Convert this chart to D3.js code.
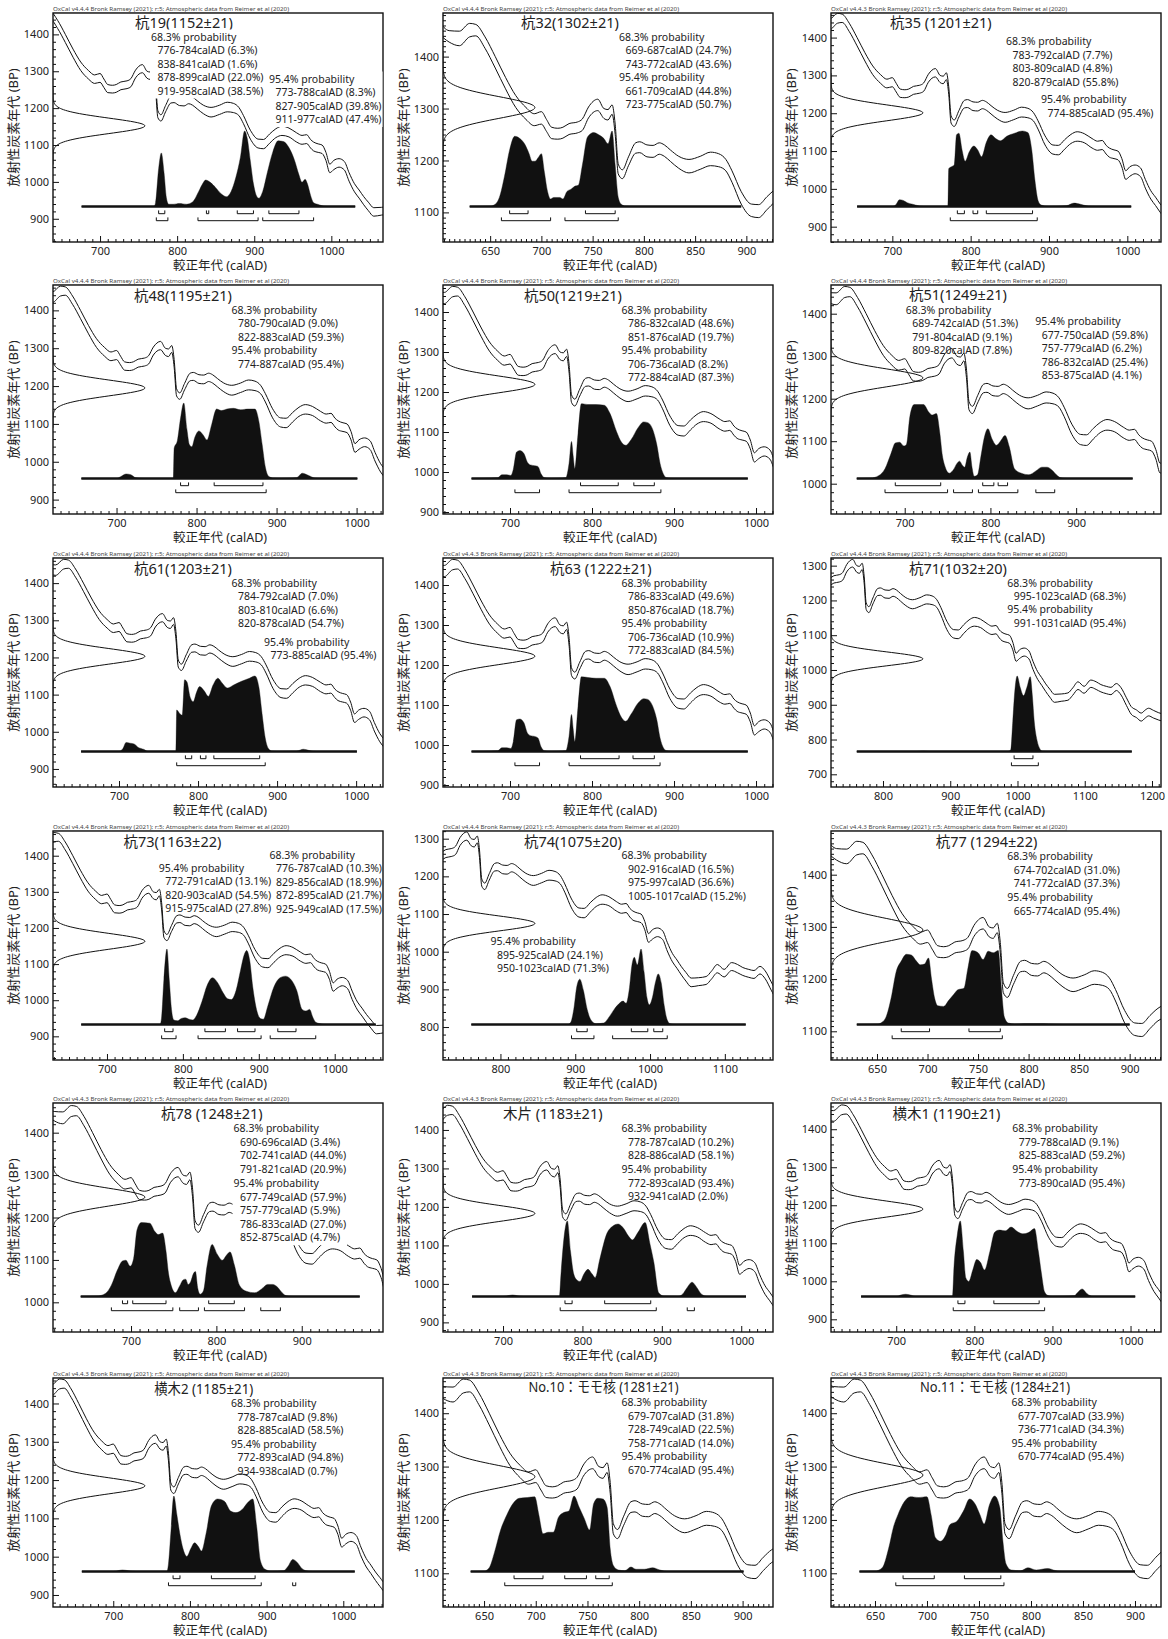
<!DOCTYPE html>
<html><head><meta charset="utf-8">
<script src="https://cdn.jsdelivr.net/npm/d3@7"></script>
<style>body{margin:0;background:#fff}svg{display:block}</style>
</head><body>
<svg id="chart" width="1168" height="1639"></svg>
<script>
// ---------- calibration curve (IntCal20, mean ± 1σ envelope) ----------
const calYears = [600,610,620,630,636,645,655,665,675,685,693,700,705,710,716,721,727,735,740,746,755,761,765,769,772,775,779,785,792,796,803,809,815,820,826,834,844,855,865,873,880,886,895,905,912,920,928,936,945,955,962,968,973,977,983,988,993,998,1003,1010,1017,1023,1030,1036,1042,1048,1055,1065,1075,1082,1090,1099,1109,1117,1124,1132,1139,1147,1154,1162,1169,1177,1184,1190,1195,1202,1210,1220];
const curveUpper = [1468,1450,1449,1464,1462,1438,1400,1360,1325,1302,1290,1294,1279,1264,1262,1264,1271,1274,1280,1303,1318,1300,1298,1307,1270,1193,1182,1207,1234,1236,1230,1229,1234,1230,1220,1208,1202,1208,1216,1213,1202,1180,1140,1116,1115,1130,1144,1151,1146,1133,1126,1128,1115,1108,1103,1100,1080,1048,1058,1063,1055,1025,995,978,960,945,930,931,934,948,966,953,971,966,958,953,950,961,949,920,895,885,876,885,890,884,877,872];
const curveLower = [1444,1428,1421,1438,1440,1416,1378,1338,1302,1279,1267,1270,1256,1242,1241,1243,1250,1253,1258,1282,1296,1281,1278,1289,1250,1174,1165,1190,1214,1215,1207,1206,1212,1208,1198,1185,1176,1183,1190,1188,1180,1158,1116,1092,1090,1105,1120,1126,1122,1108,1102,1104,1092,1084,1080,1077,1058,1025,1033,1040,1032,1002,973,956,938,922,907,910,913,927,944,933,950,944,937,932,929,941,928,898,873,863,853,862,868,862,856,850];

// ---------- samples ----------
const titles = ["杭19(1152±21)","杭32(1302±21)","杭35 (1201±21)","杭48(1195±21)","杭50(1219±21)","杭51(1249±21)","杭61(1203±21)","杭63 (1222±21)","杭71(1032±20)","杭73(1163±22)","杭74(1075±20)","杭77 (1294±22)","杭78 (1248±21)","木片 (1183±21)","横木1 (1190±21)","横木2 (1185±21)","No.10：モモ核 (1281±21)","No.11：モモ核 (1284±21)"];
const measured = [[1152,21],[1302,21],[1201,21],[1195,21],[1219,21],[1249,21],[1203,21],[1222,21],[1032,20],[1163,22],[1075,20],[1294,22],[1248,21],[1183,21],[1190,21],[1185,21],[1281,21],[1284,21]];
const versions = ["4.4.4","4.4.4","4.4.3","4.4.4","4.4.4","4.4.4","4.4.4","4.4.3","4.4.4","4.4.4","4.4.4","4.4.3","4.4.3","4.4.3","4.4.3","4.4.3","4.4.3","4.4.3"];
const xDomains = [[639,1067],[604,926],[621.7,1043],[620.6,1033],[618.3,1020.7],[614,999],[616.5,1034],[618.3,1020.7],[722.7,1213.4],[628.9,1063.6],[723.2,1164.4],[604.5,931],[608.6,995.2],[624.4,1040],[616.5,1039],[621.4,1051.8],[610.3,929.4],[607.7,925]];
const yDomains = [[837,1458],[1043,1484],[859.5,1465],[862,1467],[895,1467.5],[928.7,1467.5],[851.4,1467.6],[895,1467.5],[663.5,1322],[834.5,1468.4],[712.5,1320.4],[1045,1483.7],[930,1470],[875,1470],[866.6,1469],[868.6,1466.5],[1036.8,1466],[1036.8,1466]];
const xTickSteps = [100,50,100,100,100,100,100,100,100,100,100,50,100,100,100,100,50,50];

const ranges68 = [
 [[776,784,"6.3"],[838,841,"1.6"],[878,899,"22.0"],[919,958,"38.5"]],
 [[669,687,"24.7"],[743,772,"43.6"]],
 [[783,792,"7.7"],[803,809,"4.8"],[820,879,"55.8"]],
 [[780,790,"9.0"],[822,883,"59.3"]],
 [[786,832,"48.6"],[851,876,"19.7"]],
 [[689,742,"51.3"],[791,804,"9.1"],[809,820,"7.8"]],
 [[784,792,"7.0"],[803,810,"6.6"],[820,878,"54.7"]],
 [[786,833,"49.6"],[850,876,"18.7"]],
 [[995,1023,"68.3"]],
 [[776,787,"10.3"],[829,856,"18.9"],[872,895,"21.7"],[925,949,"17.5"]],
 [[902,916,"16.5"],[975,997,"36.6"],[1005,1017,"15.2"]],
 [[674,702,"31.0"],[741,772,"37.3"]],
 [[690,696,"3.4"],[702,741,"44.0"],[791,821,"20.9"]],
 [[778,787,"10.2"],[828,886,"58.1"]],
 [[779,788,"9.1"],[825,883,"59.2"]],
 [[778,787,"9.8"],[828,885,"58.5"]],
 [[679,707,"31.8"],[728,749,"22.5"],[758,771,"14.0"]],
 [[677,707,"33.9"],[736,771,"34.3"]]
];
const ranges95 = [
 [[773,788,"8.3"],[827,905,"39.8"],[911,977,"47.4"]],
 [[661,709,"44.8"],[723,775,"50.7"]],
 [[774,885,"95.4"]],
 [[774,887,"95.4"]],
 [[706,736,"8.2"],[772,884,"87.3"]],
 [[677,750,"59.8"],[757,779,"6.2"],[786,832,"25.4"],[853,875,"4.1"]],
 [[773,885,"95.4"]],
 [[706,736,"10.9"],[772,883,"84.5"]],
 [[991,1031,"95.4"]],
 [[772,791,"13.1"],[820,903,"54.5"],[915,975,"27.8"]],
 [[895,925,"24.1"],[950,1023,"71.3"]],
 [[665,774,"95.4"]],
 [[677,749,"57.9"],[757,779,"5.9"],[786,833,"27.0"],[852,875,"4.7"]],
 [[772,893,"93.4"],[932,941,"2.0"]],
 [[773,890,"95.4"]],
 [[772,893,"94.8"],[934,938,"0.7"]],
 [[670,774,"95.4"]],
 [[670,774,"95.4"]]
];

// ---------- calibrated probability distributions [calAD, relative probability] ----------
const distK19 = [[676,0],[770,0],[772,0.05],[776,0.5],[779.5,0.71],[783,0.45],[786,0.12],[789,0.03],[795,0.03],[803,0.04],[812,0.03],[820,0.06],[828,0.2],[833,0.3],[837,0.35],[843,0.32],[850,0.25],[857,0.17],[864,0.13],[870,0.2],[876,0.38],[882,0.65],[887.5,1.0],[891,0.9],[895,0.6],[899,0.3],[903,0.14],[906,0.11],[911,0.2],[917,0.45],[924,0.72],[931,0.87],[938,0.86],[945,0.78],[952,0.62],[958,0.42],[962,0.32],[966,0.36],[969,0.3],[973,0.15],[977,0.05],[982,0.03],[988,0.01],[995,0],[1031,0]];
const distK32 = [[630,0],[650,0.005],[655,0.03],[659,0.12],[664,0.4],[669,0.75],[674,0.93],[679,0.9],[684,0.82],[688,0.7],[691,0.6],[694,0.6],[697,0.65],[700,0.7],[703,0.45],[706,0.2],[709,0.1],[712,0.12],[718,0.12],[721,0.1],[725,0.2],[729,0.23],[733,0.27],[736,0.28],[740,0.55],[745,0.92],[751,0.98],[756,0.95],[761,0.9],[765,0.83],[769,1.0],[772,0.55],[775,0.12],[778,0.03],[782,0.005],[790,0],[895,0]];
const distK35 = [[655,0],[700,0],[705,0.03],[709,0.09],[714,0.08],[719,0.05],[726,0.03],[733,0.01],[740,0],[771,0],[772,0.5],[776,0.53],[779,0.55],[782,0.95],[785,0.97],[789,0.75],[793,0.6],[798,0.72],[804,0.8],[809,0.75],[814,0.66],[820,0.85],[826,0.95],[832,0.9],[838,0.87],[846,0.93],[856,0.97],[866,1.0],[873,0.98],[878,0.75],[882,0.35],[886,0.08],[890,0.02],[900,0],[922,0.01],[932,0.045],[940,0.03],[950,0.005],[960,0],[1005,0]];
const distK48 = [[656,0],[700,0],[706,0.03],[712,0.06],[718,0.05],[724,0.01],[735,0],[771,0],[772,0.4],[776,0.5],[780,0.8],[784,1.0],[788,0.65],[791,0.45],[794,0.42],[798,0.55],[803,0.63],[808,0.58],[813,0.51],[819,0.72],[825,0.92],[831,0.9],[838,0.92],[846,0.93],[855,0.91],[864,0.92],[873,0.92],[878,0.75],[882,0.45],[886,0.15],[890,0.03],[896,0.005],[905,0],[925,0.01],[932,0.07],[940,0.04],[948,0.005],[955,0],[1001,0]];
const distK50 = [[653,0],[685,0.01],[690,0.05],[696,0.05],[701,0.04],[704,0.12],[708,0.35],[712,0.37],[717,0.33],[721,0.22],[725,0.18],[730,0.17],[734,0.16],[738,0.06],[742,0.01],[750,0],[768,0.01],[772,0.2],[775,0.49],[777,0.3],[779,0.13],[783,0.6],[787,0.99],[795,0.98],[805,0.98],[815,0.97],[822,0.86],[830,0.62],[836,0.48],[841,0.44],[848,0.52],[856,0.67],[863,0.75],[868,0.74],[874,0.65],[879,0.45],[883,0.2],[887,0.06],[891,0.01],[900,0],[990,0]];
const distK51 = [[644,0],[660,0.005],[670,0.04],[677,0.13],[684,0.33],[689,0.47],[694,0.48],[699,0.43],[702,0.45],[706,0.82],[711,0.98],[722,0.98],[728,0.88],[732,0.84],[737,0.86],[741,0.6],[744,0.3],[747,0.16],[752,0.07],[757,0.12],[761,0.2],[764,0.23],[767,0.18],[770,0.15],[773,0.28],[776,0.35],[778.5,0.15],[781,0.03],[785,0.05],[789,0.3],[793,0.55],[797,0.66],[802,0.52],[807,0.44],[812,0.5],[817,0.57],[822,0.42],[828,0.13],[836,0.07],[845,0.05],[853,0.1],[860,0.15],[866,0.15],[872,0.11],[877,0.05],[882,0.01],[890,0],[966,0]];
const distK61 = [[652,0],[700,0],[705,0.04],[709,0.12],[714,0.11],[719,0.1],[725,0.05],[731,0.03],[737,0],[772,0],[773,0.55],[777,0.5],[780,0.48],[783,0.95],[786,0.92],[790,0.72],[794,0.66],[798,0.78],[802,0.86],[808,0.8],[813,0.73],[819,0.88],[825,0.97],[831,0.9],[837,0.84],[845,0.88],[855,0.93],[865,0.97],[872,1.0],[877,0.85],[881,0.5],[885,0.18],[889,0.04],[894,0.005],[900,0],[925,0.005],[933,0.03],[942,0.01],[950,0],[1001,0]];
const distK63 = [[653,0],[685,0.01],[690,0.05],[696,0.05],[701,0.04],[704,0.13],[708,0.42],[712,0.43],[717,0.38],[721,0.25],[725,0.21],[730,0.2],[734,0.18],[738,0.06],[742,0.01],[750,0],[768,0.01],[772,0.2],[775,0.49],[777,0.3],[779,0.13],[783,0.6],[787,0.99],[795,0.98],[805,0.97],[815,0.97],[822,0.86],[830,0.6],[836,0.45],[841,0.4],[848,0.5],[856,0.64],[863,0.7],[868,0.69],[874,0.6],[879,0.42],[883,0.18],[887,0.05],[891,0.01],[900,0],[990,0]];
const distK71 = [[761,0],[850,0],[860,0.005],[870,0],[985,0],[990,0.02],[993,0.4],[996,0.8],[999.5,1.0],[1004,0.85],[1009,0.74],[1014,0.85],[1019,0.99],[1022,0.75],[1025,0.39],[1029,0.15],[1033,0.04],[1037,0.005],[1045,0],[1170,0]];
const distK73 = [[666,0],[770,0],[772,0.1],[775,0.6],[779,1.0],[782,0.6],[785,0.2],[788,0.06],[793,0.05],[798,0.08],[803,0.09],[808,0.07],[813,0.06],[818,0.12],[825,0.3],[832,0.52],[839,0.62],[846,0.55],[853,0.42],[859,0.34],[864,0.33],[870,0.45],[876,0.72],[881,0.93],[884,0.98],[888,0.85],[892,0.5],[897,0.2],[902,0.08],[906,0.07],[912,0.25],[920,0.5],[928,0.62],[935,0.64],[942,0.6],[950,0.45],[957,0.2],[962,0.18],[967,0.2],[971,0.1],[975,0.03],[981,0.01],[990,0],[1054,0]];
const distK74 = [[761,0],[890,0],[894,0.03],[898,0.2],[902,0.5],[906,0.6],[911,0.45],[916,0.2],[921,0.06],[928,0.01],[938,0.02],[946,0.11],[952,0.2],[957,0.26],[964,0.31],[968,0.28],[972,0.45],[976,0.8],[979,0.89],[983,0.79],[988,1.0],[992,0.7],[996,0.35],[999,0.26],[1003,0.35],[1007,0.55],[1011,0.67],[1015,0.55],[1019,0.25],[1023,0.06],[1027,0.01],[1035,0],[1128,0]];
const distK77 = [[630,0],[650,0.005],[655,0.03],[659,0.1],[664,0.35],[669,0.7],[674,0.84],[679,0.93],[684,0.92],[689,0.84],[693,0.79],[697,0.8],[701,0.88],[704,0.6],[707,0.35],[710,0.25],[716,0.24],[721,0.32],[726,0.4],[730,0.46],[736,0.48],[740,0.75],[744,0.98],[750,0.95],[755,0.86],[760,0.97],[765,0.95],[770,0.98],[773,0.5],[776,0.1],[780,0.02],[786,0.005],[795,0.01],[805,0.01],[815,0.01],[825,0.005],[835,0],[900,0]];
const distK78 = [[641,0],[660,0.005],[670,0.04],[677,0.15],[684,0.35],[690,0.47],[694,0.48],[699,0.4],[703,0.5],[707,0.88],[712,0.98],[722,0.97],[728,0.86],[732,0.82],[737,0.84],[741,0.6],[744,0.3],[747,0.15],[752,0.05],[757,0.14],[761,0.22],[764,0.23],[767,0.16],[770,0.2],[773,0.3],[775.5,0.33],[778,0.12],[781,0.03],[785,0.08],[789,0.4],[795,0.69],[801,0.56],[807,0.48],[812,0.55],[816,0.59],[821,0.42],[827,0.15],[835,0.07],[845,0.05],[853,0.1],[860,0.16],[866,0.16],[872,0.12],[877,0.05],[882,0.01],[890,0],[968,0]];
const distMokuhen = [[661,0],[700,0],[706,0.01],[712,0.02],[718,0.01],[726,0],[771,0],[773,0.3],[777,0.8],[781,1.0],[785,0.6],[789,0.3],[793,0.22],[797,0.2],[802,0.3],[807,0.36],[812,0.3],[816,0.25],[822,0.5],[831,0.84],[838,0.93],[845,0.96],[852,0.9],[858,0.8],[863,0.75],[870,0.85],[879,0.98],[885,0.7],[890,0.45],[896,0.05],[903,0.005],[920,0],[926,0.03],[932,0.12],[938,0.19],[944,0.12],[950,0.03],[958,0],[1006,0]];
const distYokogi1 = [[655,0],[700,0],[706,0.02],[712,0.03],[718,0.02],[725,0],[772,0],[774,0.4],[778,0.8],[782,1.0],[786,0.6],[789,0.25],[793,0.2],[798,0.35],[803,0.49],[808,0.45],[813,0.35],[820,0.6],[826,0.85],[832,0.88],[840,0.87],[847,0.92],[855,0.86],[862,0.83],[870,0.85],[877,0.9],[882,0.6],[886,0.3],[890,0.06],[895,0.01],[900,0],[928,0.01],[932,0.05],[938,0.1],[944,0.04],[952,0],[1006,0]];
const distYokogi2 = [[659,0],[700,0],[706,0.01],[712,0.02],[720,0.01],[730,0],[770,0],[772,0.1],[775,0.5],[779,1.0],[783,0.75],[787,0.49],[791,0.3],[796,0.2],[801,0.3],[806,0.38],[811,0.33],[815,0.27],[821,0.5],[828,0.87],[836,0.96],[845,0.93],[853,0.8],[860,0.78],[868,0.82],[876,0.92],[882,0.96],[887,0.6],[892,0.14],[898,0.03],[906,0.005],[922,0.01],[928,0.07],[934,0.16],[940,0.12],[946,0.04],[952,0.01],[960,0],[1015,0]];
const distNo10 = [[637,0],[650,0.005],[655,0.05],[660,0.25],[666,0.55],[672,0.75],[678,0.9],[684,0.97],[692,0.98],[699,0.99],[703,0.75],[707,0.5],[712,0.52],[717,0.52],[722,0.72],[727,0.78],[732,0.8],[737,1.0],[742,0.85],[747,0.7],[752,0.55],[756,0.9],[760,0.97],[765,0.96],[769,0.85],[772,0.3],[775,0.08],[780,0.02],[786,0.01],[792,0.06],[797,0.03],[805,0.03],[813,0.05],[820,0.02],[828,0],[901,0]];
const distNo11 = [[635,0],[650,0.005],[657,0.05],[663,0.3],[668,0.6],[672,0.75],[678,0.92],[684,0.99],[692,0.98],[700,0.99],[704,0.75],[708,0.45],[713,0.4],[718,0.48],[722,0.62],[729,0.67],[735,0.8],[741,0.96],[746,0.9],[751,0.75],[755,0.63],[760,0.88],[765,1.0],[770,0.85],[773,0.4],[776,0.1],[781,0.02],[790,0.01],[797,0.05],[805,0.02],[816,0.04],[824,0.01],[830,0],[900,0]];
const dists = [distK19,distK32,distK35,distK48,distK50,distK51,distK61,distK63,distK71,distK73,distK74,distK77,distK78,distMokuhen,distYokogi1,distYokogi2,distNo10,distNo11];

// ---------- layout (pixels, relative to each panel) ----------
const colX = [0,390,778], rowY = [0,272,545,818,1090,1365];
const FL = 53, FR = 383, FT = 13, FB = 242, BASE = 206.5, PEAK = 75.5, GAUSS_W = 92;
const textLayout = [
 {title:[135,28], b68:[151,40.5], b95:[269,82.5], bg:true},
 {title:[131,28], b68:[229,40.5], b95:[229,81]},
 {title:[112,28], b68:[228,45], b95:[263,103]},
 {title:[134,29], b68:[231.5,41.5], b95:[231.5,82]},
 {title:[134,29], b68:[231.5,41.5], b95:[231.5,82]},
 {title:[131,28], b68:[127.7,41.7], b95:[257.3,53]},
 {title:[134,29], b68:[231.5,41.5], b95:[264,100.7]},
 {title:[160,29], b68:[231.5,41.5], b95:[231.5,82]},
 {title:[131,29], b68:[229.3,41.7], b95:[229.3,68.4]},
 {title:[123.5,29], b68:[269.5,40.5], b95:[158.7,53.5]},
 {title:[134,29], b68:[231.4,41], b95:[100.4,127.3]},
 {title:[157.7,29], b68:[229.3,42], b95:[229.3,83]},
 {title:[161,29], b68:[233.6,42.3], b95:[233.6,97.3], bg:true},
 {title:[113,29], b68:[231.4,42.3], b95:[231.4,83]},
 {title:[114.5,29], b68:[234.3,42.3], b95:[234.3,83]},
 {title:[154.3,28.5], b68:[231,42], b95:[231,82.5], tw:99},
 {title:[138.5,27], b68:[231.5,41], b95:[231.5,95], tw:150},
 {title:[142,27], b68:[233.5,41], b95:[233.5,81.5], tw:150}
];
const FONT = "'Noto Sans','Noto Sans CJK JP',sans-serif";

const svg = d3.select('#chart');
svg.append('rect').attr('width',1168).attr('height',1639).attr('fill','#fff');

titles.forEach((title, i) => {
  const g = svg.append('g').attr('transform', `translate(${colX[i%3]},${rowY[Math.floor(i/3)]})`)
    .attr('font-family', FONT);
  const [x0, x1] = xDomains[i], [y0, y1] = yDomains[i];
  const x = d3.scaleLinear().domain([x0, x1]).range([FL, FR]);
  const y = d3.scaleLinear().domain([y0, y1]).range([FB, FT]);
  const p = d3.scaleLinear().domain([0, 1]).range([BASE, BASE - PEAK]);
  const gx = d3.scaleLinear().domain([0, 1]).range([FL, FL + GAUSS_W]);

  const cid = 'clip' + i;
  g.append('clipPath').attr('id', cid).append('rect')
    .attr('x', FL).attr('y', FT).attr('width', FR - FL).attr('height', FB - FT);
  const plot = g.append('g').attr('clip-path', `url(#${cid})`);

  // calibration curve envelope
  const curveLine = d3.line().x((d, j) => x(calYears[j])).y(d => y(d)).curve(d3.curveMonotoneX);
  [curveUpper, curveLower].forEach(arr => {
    plot.append('path').attr('d', curveLine(arr)).attr('fill', 'none')
      .attr('stroke', '#111').attr('stroke-width', 1);
  });

  // measured radiocarbon date (normal distribution on the y axis)
  const [mu, sd] = measured[i];
  const bps = d3.range(mu - 5 * sd, mu + 5 * sd + 0.01, sd / 12);
  const gLine = d3.line().x(b => gx(Math.exp(-((b - mu) ** 2) / (2 * sd * sd)))).y(b => y(b)).curve(d3.curveBasis);
  plot.append('path').attr('d', gLine(bps)).attr('fill', 'none').attr('stroke', '#111').attr('stroke-width', 1);

  // calibrated distribution
  const dist = dists[i];
  const area = d3.area().x(d => x(d[0])).y0(BASE).y1(d => p(d[1])).curve(d3.curveMonotoneX);
  plot.append('path').attr('d', area(dist)).attr('fill', '#111').attr('stroke', '#111').attr('stroke-width', 0.4);
  plot.append('line').attr('x1', x(dist[0][0])).attr('x2', x(dist[dist.length - 1][0]))
    .attr('y1', BASE).attr('y2', BASE).attr('stroke', '#111').attr('stroke-width', 2.6);

  // ranges brackets
  const bracket = (a, b, yy) => `M${x(a)},${yy - 3.3}V${yy}H${x(b)}V${yy - 3.3}`;
  ranges68[i].forEach(r => plot.append('path').attr('d', bracket(r[0], r[1], BASE + 7.2))
    .attr('fill', 'none').attr('stroke', '#111').attr('stroke-width', 1));
  ranges95[i].forEach(r => plot.append('path').attr('d', bracket(r[0], r[1], BASE + 14.2))
    .attr('fill', 'none').attr('stroke', '#111').attr('stroke-width', 1));

  // axes
  const step = xTickSteps[i];
  const xMajor = d3.range(Math.ceil(x0 / step) * step, x1, step);
  const xMinorStep = step === 50 ? 5 : 10;
  const xMinor = d3.range(Math.ceil(x0 / xMinorStep) * xMinorStep, x1, xMinorStep).filter(v => v % step !== 0);
  const yMajor = d3.range(Math.ceil(y0 / 100) * 100, y1, 100);
  const yMinorStep = step === 50 ? 10 : 20;
  const yMinor = d3.range(Math.ceil(y0 / yMinorStep) * yMinorStep, y1, yMinorStep).filter(v => v % 100 !== 0);

  const styleAxis = sel => {
    sel.select('.domain').remove();
    sel.attr('font-family', FONT).attr('font-size', 11);
    sel.selectAll('line').attr('stroke', '#111').attr('stroke-width', 1);
    sel.selectAll('text').attr('fill', '#222');
  };
  g.append('g').attr('transform', `translate(0,${FB})`)
    .call(d3.axisBottom(x).tickValues(xMinor).tickSizeInner(-3).tickSizeOuter(0).tickFormat(''))
    .call(styleAxis);
  g.append('g').attr('transform', `translate(0,${FB})`)
    .call(d3.axisBottom(x).tickValues(xMajor).tickSizeInner(-6).tickSizeOuter(0).tickPadding(5.5).tickFormat(d3.format('d')))
    .call(styleAxis);
  g.append('g').attr('transform', `translate(${FL},0)`)
    .call(d3.axisLeft(y).tickValues(yMinor).tickSizeInner(-3).tickSizeOuter(0).tickFormat(''))
    .call(styleAxis);
  g.append('g').attr('transform', `translate(${FL},0)`)
    .call(d3.axisLeft(y).tickValues(yMajor).tickSizeInner(-6).tickSizeOuter(0).tickPadding(4).tickFormat(d3.format('d')))
    .call(styleAxis);

  // frame
  g.append('rect').attr('x', FL).attr('y', FT).attr('width', FR - FL).attr('height', FB - FT)
    .attr('fill', 'none').attr('stroke', '#111').attr('stroke-width', 1.4);

  // header
  g.append('text').attr('x', FL).attr('y', 11).attr('font-size', 6).attr('fill', '#444')
    .attr('text-decoration', 'underline')
    .attr('textLength', 236).attr('lengthAdjust', 'spacingAndGlyphs')
    .text(`OxCal v${versions[i]} Bronk Ramsey (2021); r:5; Atmospheric data from Reimer et al (2020)`);

  // axis titles
  g.append('text').attr('transform', `translate(13,${(FT + FB) / 2}) rotate(-90)`)
    .attr('text-anchor', 'middle').attr('dy', '0.35em').attr('font-size', 13).attr('fill', '#222')
    .text('放射性炭素年代 (BP)');
  g.append('text').attr('x', (FL + FR) / 2 + 2).attr('y', 270).attr('text-anchor', 'middle')
    .attr('font-size', 12.5).attr('fill', '#222').text('較正年代 (calAD)');

  // title & probability text
  const L = textLayout[i];
  const tt = g.append('text').attr('x', L.title[0]).attr('y', L.title[1]).attr('font-size', 14.5).attr('fill', '#222').text(title);
  if (L.tw) tt.attr('textLength', L.tw).attr('lengthAdjust', 'spacingAndGlyphs');
  const block = (pos, head, rs) => {
    const bg = g.append('g');
    const t = g.append('text').attr('font-size', 10.5).attr('fill', '#222');
    t.append('tspan').attr('x', pos[0]).attr('y', pos[1]).text(head);
    rs.forEach((r, k) => t.append('tspan').attr('x', pos[0] + 6.5).attr('y', pos[1] + 13.5 * (k + 1))
      .text(`${r[0]}-${r[1]}calAD (${r[2]}%)`));
    if (L.bg) {
      const bb = t.node().getBBox();
      bg.append('rect').attr('x', bb.x - 1).attr('y', bb.y).attr('width', bb.width + 2).attr('height', bb.height + 1).attr('fill', '#fff');
    }
  };
  block(L.b68, '68.3% probability', ranges68[i]);
  block(L.b95, '95.4% probability', ranges95[i]);
});
</script>
</body></html>
